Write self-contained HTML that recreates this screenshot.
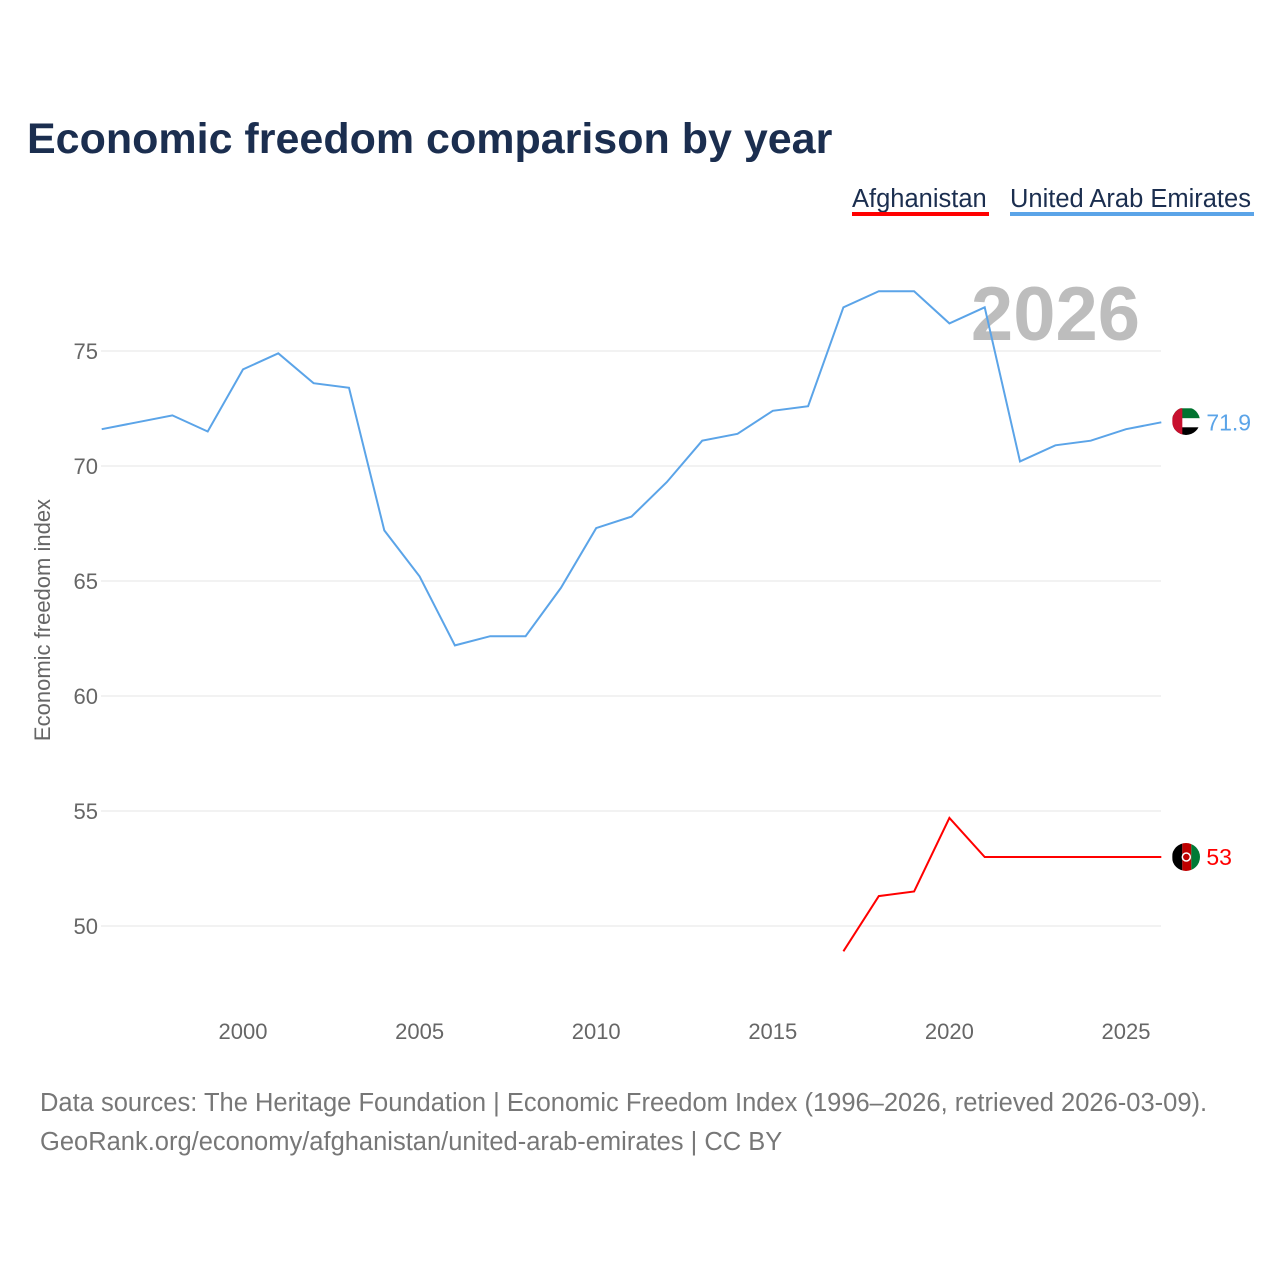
<!DOCTYPE html>
<html><head><meta charset="utf-8"><style>
body{margin:0;background:#fff;font-family:"Liberation Sans",sans-serif;}
</style></head><body>
<svg width="1280" height="1280" viewBox="0 0 1280 1280" xmlns="http://www.w3.org/2000/svg">
<defs>
<clipPath id="cu"><circle cx="1186" cy="421" r="14"/></clipPath>
<clipPath id="ca"><circle cx="1186" cy="857" r="14"/></clipPath>
</defs>
<text x="27" y="153" font-size="43" font-weight="bold" fill="#1b2e4f">Economic freedom comparison by year</text>
<g>
<text x="852" y="207" font-size="25.5" fill="#1b2e4f">Afghanistan</text>
<rect x="852" y="212" width="137" height="4" fill="#ff0000"/>
<text x="1010" y="207" font-size="25.5" fill="#1b2e4f">United Arab Emirates</text>
<rect x="1010" y="212" width="244" height="4" fill="#5ba4e8"/>
</g>
<text x="1140" y="340" text-anchor="end" font-size="76" font-weight="bold" fill="#bdbdbd">2026</text>
<g id="grid"></g>
<g id="xaxis"></g>
<text transform="translate(50,620) rotate(-90)" text-anchor="middle" font-size="22" fill="#666">Economic freedom index</text>
<g id="series"></g>
<text x="40" y="1111" font-size="25.5" fill="#777">Data sources: The Heritage Foundation | Economic Freedom Index (1996–2026, retrieved 2026-03-09).</text>
<text x="40" y="1150" font-size="25.5" fill="#777">GeoRank.org/economy/afghanistan/united-arab-emirates | CC BY</text>
</svg>
<script>
const uaeYears=[1996,1997,1998,1999,2000,2001,2002,2003,2004,2005,2006,2007,2008,2009,2010,2011,2012,2013,2014,2015,2016,2017,2018,2019,2020,2021,2022,2023,2024,2025,2026];
const uaeValues=[71.6,71.9,72.2,71.5,74.2,74.9,73.6,73.4,67.2,65.2,62.2,62.6,62.6,64.7,67.3,67.8,69.3,71.1,71.4,72.4,72.6,76.9,77.6,77.6,76.2,76.9,70.2,70.9,71.1,71.6,71.9];
const afgYears=[2017,2018,2019,2020,2021,2022,2023,2024,2025,2026];
const afgValues=[48.9,51.3,51.5,54.7,53.0,53.0,53.0,53.0,53.0,53.0];
const yTicks=[50,55,60,65,70,75];
const xTicks=[2000,2005,2010,2015,2020,2025];
const NS="http://www.w3.org/2000/svg";
const xs=y=>243+(y-2000)*35.32;
const ys=v=>351+(75-v)*23;
const grid=document.getElementById('grid'),xa=document.getElementById('xaxis'),ser=document.getElementById('series');
function mk(tag,attrs,parent){const e=document.createElementNS(NS,tag);for(const k in attrs)e.setAttribute(k,attrs[k]);parent.appendChild(e);return e;}
yTicks.forEach(v=>{
 const l=mk('line',{x1:101,x2:1161,y1:ys(v),y2:ys(v),stroke:'#e6e6e6','stroke-width':1},grid);
 
 
 const t=mk('text',{x:98,y:ys(v)+8,'text-anchor':'end','font-size':22,fill:'#666'},grid);
 t.textContent=v;
 
 
});
xTicks.forEach(y=>{
 const t=mk('text',{x:xs(y),y:1039,'text-anchor':'middle','font-size':22,fill:'#666'},xa);
 t.textContent=y;
 
 
});
function flag(name,cx,cy){
 const g=mk('g',{'clip-path':name==='uae'?'url(#cu)':'url(#ca)'},ser);
 
 
 if(name==='uae'){
  mk('rect',{x:cx-14,y:cy-14,width:28,height:10,fill:'#00732f'},g);
  mk('rect',{x:cx-14,y:cy-4,width:28,height:9,fill:'#fff'},g);
  mk('rect',{x:cx-14,y:cy+5,width:28,height:10,fill:'#000'},g);
  mk('rect',{x:cx-14,y:cy-14,width:10,height:28,fill:'#c8102e'},g);
 } else {
  mk('rect',{x:cx-14,y:cy-14,width:10,height:28,fill:'#000'},g);
  mk('rect',{x:cx-4,y:cy-14,width:9,height:28,fill:'#be0000'},g);
  mk('rect',{x:cx+5,y:cy-14,width:10,height:28,fill:'#007a36'},g);
  mk('circle',{cx:cx,cy:cy,r:4,fill:'none',stroke:'#fff','stroke-width':1.5},g);
 }
}
function line(years,vals,color,name){
 const d=years.map((y,i)=>(i?'L':'M')+xs(y).toFixed(1)+','+ys(vals[i]).toFixed(1)).join('');
 const p=mk('path',{d:d,fill:'none',stroke:color,'stroke-width':2},ser);
 
 
 const lx=xs(years[years.length-1])+25, ly=ys(vals[vals.length-1]);
 flag(name,lx,ly);
 const t=mk('text',{x:lx+20,y:ly+8,'font-size':23,fill:color},ser);
 t.textContent=vals[vals.length-1];
 
 
}
line(uaeYears,uaeValues,'#5ba4e8','uae');
line(afgYears,afgValues,'#ff0000','afghanistan');
</script>
</body></html>
